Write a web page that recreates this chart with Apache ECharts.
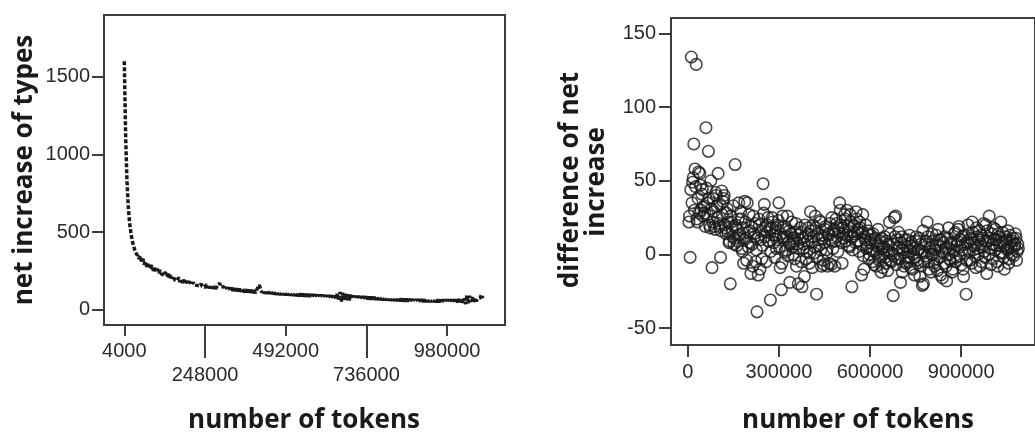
<!DOCTYPE html>
<html>
<head>
<meta charset="utf-8">
<script src="https://cdn.jsdelivr.net/npm/echarts@6/dist/echarts.min.js"></script>
<style>
  html, body { margin: 0; padding: 0; background: #ffffff; }
  #chart { width: 1035px; height: 432px; }
</style>
</head>
<body>
<div id="chart"></div>
<script>
// Token counts at which the type growth was measured (every 4000 tokens)
const tokens = [
  4000, 8000, 12000, 16000, 20000, 24000, 28000, 32000, 36000, 40000,
  44000, 48000, 52000, 56000, 60000, 64000, 68000, 72000, 76000, 80000,
  84000, 88000, 92000, 96000, 100000, 104000, 108000, 112000, 116000, 120000,
  124000, 128000, 132000, 136000, 140000, 144000, 148000, 152000, 156000, 160000,
  164000, 168000, 172000, 176000, 180000, 184000, 188000, 192000, 196000, 200000,
  204000, 208000, 212000, 216000, 220000, 224000, 228000, 232000, 236000, 240000,
  244000, 248000, 252000, 256000, 260000, 264000, 268000, 272000, 276000, 280000,
  284000, 288000, 292000, 296000, 300000, 304000, 308000, 312000, 316000, 320000,
  324000, 328000, 332000, 336000, 340000, 344000, 348000, 352000, 356000, 360000,
  364000, 368000, 372000, 376000, 380000, 384000, 388000, 392000, 396000, 400000,
  404000, 408000, 412000, 416000, 420000, 424000, 428000, 432000, 436000, 440000,
  444000, 448000, 452000, 456000, 460000, 464000, 468000, 472000, 476000, 480000,
  484000, 488000, 492000, 496000, 500000, 504000, 508000, 512000, 516000, 520000,
  524000, 528000, 532000, 536000, 540000, 544000, 548000, 552000, 556000, 560000,
  564000, 568000, 572000, 576000, 580000, 584000, 588000, 592000, 596000, 600000,
  604000, 608000, 612000, 616000, 620000, 624000, 628000, 632000, 636000, 640000,
  644000, 648000, 652000, 656000, 660000, 664000, 668000, 672000, 676000, 680000,
  684000, 688000, 692000, 696000, 700000, 704000, 708000, 712000, 716000, 720000,
  724000, 728000, 732000, 736000, 740000, 744000, 748000, 752000, 756000, 760000,
  764000, 768000, 772000, 776000, 780000, 784000, 788000, 792000, 796000, 800000,
  804000, 808000, 812000, 816000, 820000, 824000, 828000, 832000, 836000, 840000,
  844000, 848000, 852000, 856000, 860000, 864000, 868000, 872000, 876000, 880000,
  884000, 888000, 892000, 896000, 900000, 904000, 908000, 912000, 916000, 920000,
  924000, 928000, 932000, 936000, 940000, 944000, 948000, 952000, 956000, 960000,
  964000, 968000, 972000, 976000, 980000, 984000, 988000, 992000, 996000, 1000000,
  1004000, 1008000, 1012000, 1016000, 1020000, 1024000, 1028000, 1032000, 1036000, 1040000,
  1044000, 1048000, 1052000, 1056000, 1060000, 1064000, 1068000, 1072000, 1076000, 1080000,
  1084000, 1088000
];

// Net increase of word types in each step
const netIncrease = [
  1600, 1120, 830, 665, 560, 495, 445, 410, 385, 365,
  356, 330, 348, 312, 330, 292, 312, 278, 296, 266,
  262, 286, 252, 270, 244, 264, 238, 256, 232, 244,
  224, 244, 216, 232, 208, 226, 202, 218, 194, 206,
  188, 210, 180, 198, 174, 194, 170, 186, 166, 182,
  176, 162, 178, 160, 172, 158, 170, 155, 168, 152,
  162, 146, 165, 142, 158, 140, 155, 138, 152, 136,
  150, 162, 172, 148, 136, 150, 132, 146, 130, 144,
  128, 142, 124, 140, 122, 138, 120, 136, 118, 132,
  134, 116, 132, 114, 130, 112, 128, 110, 126, 108,
  128, 140, 160, 134, 112, 126, 106, 124, 104, 122,
  104, 120, 102, 118, 100, 116, 98, 114, 97, 113,
  96, 114, 95, 112, 94, 110, 93, 108, 92, 107,
  90, 106, 89, 105, 88, 104, 87, 103, 86, 102,
  85, 101, 84, 100, 83, 99, 82, 98, 81, 97,
  80, 96, 79, 95, 78, 94, 77, 93, 76, 92,
  70, 105, 60, 115, 52, 110, 58, 104, 64, 100,
  62, 98, 72, 92, 74, 90, 73, 89, 72, 88,
  71, 87, 70, 86, 69, 85, 68, 84, 67, 83,
  66, 82, 65, 81, 64, 80, 63, 79, 62, 78,
  61, 77, 60, 76, 59, 75, 58, 74, 57, 73,
  56, 72, 55, 71, 55, 70, 54, 70, 54, 69,
  53, 69, 53, 68, 52, 68, 52, 67, 52, 67,
  51, 67, 51, 66, 51, 66, 50, 66, 50, 65,
  50, 66, 51, 67, 50, 66, 51, 67, 50, 66,
  51, 67, 50, 68, 52, 66, 48, 74, 38, 96,
  44, 90, 52, 82, 50, 76, 56, 72, 60, 78,
  98, 74
];

// Difference of net increase between consecutive steps
const diffNetIncrease = [
  22, -2, 134, 49, 75, 58, 129, 22, 56, 55,
  30, 44, 32, 28, 86, 35, 70, 20, 50, -9,
  38, 19, 42, 33, 55, 19, -2, 43, 36, 40,
  18, 28, 15, 8, -20, 22, 12, 7, 61, 18,
  9, 35, 14, 24, 2, -6, 36, 11, 35, 5,
  16, -13, 7, 26, 12, -5, -39, -14, 20, 10,
  -3, 48, 34, 19, 15, 25, 9, -31, 18, 22,
  8, 13, 4, 20, 35, -9, -24, 26, 12, 2,
  17, 26, 8, -19, 14, 5, 11, -3, 21, 7,
  -20, 10, 15, -22, 4, -15, 12, 2, 18, -6,
  29, 9, 20, 1, 26, -27, 14, 6, 22, -8,
  11, -7, 17, 3, -8, 13, 21, -7, 9, 16,
  -8, 24, 12, 18, 35, 20, -6, 14, 27, 9,
  30, 16, 5, 22, -22, 12, 19, 8, 24, 15,
  2, 18, -14, 27, -10, 10, 4, 14, -3, 8,
  13, -5, 2, 11, -8, 6, -2, 9, -12, 4,
  0, 12, -6, 3, 7, 22, -4, 1, -28, 25,
  26, 10, -3, 5, -19, 12, 3, -8, 6, -2,
  10, -5, 2, 8, -10, 4, -2, 12, -6, 3,
  -15, 7, -21, -20, 1, 9, 22, -5, 5, -12,
  14, 0, -8, 6, -3, 17, 10, -14, 2, 8,
  -6, 4, -18, 11, 0, -4, 7, -10, 3, 15,
  -2, 9, 19, 5, -7, 12, -15, 1, -27, 8,
  14, -4, 10, 22, 3, 6, -9, 12, 0, 16,
  7, -5, 11, 2, 20, -13, 9, 26, 4, 14,
  -3, 10, 17, 6, -8, 12, 1, 8, 15, -2,
  6, 10, 3, -6, 13, 5, 9, -1, 7, 11,
  2, 4
];

// Half-step token counts and their differences
const midTokens = [
  6000, 10000, 14000, 18000, 22000, 26000, 30000, 34000, 38000, 42000,
  46000, 50000, 54000, 58000, 62000, 66000, 70000, 74000, 78000, 82000,
  86000, 90000, 94000, 98000, 102000, 106000, 110000, 114000, 118000, 122000,
  126000, 130000, 134000, 138000, 142000, 146000, 150000, 154000, 158000, 162000,
  166000, 170000, 174000, 178000, 182000, 186000, 190000, 194000, 198000, 202000,
  206000, 210000, 214000, 218000, 222000, 226000, 230000, 234000, 238000, 242000,
  246000, 250000, 254000, 258000, 262000, 266000, 270000, 274000, 278000, 282000,
  286000, 290000, 294000, 298000, 302000, 306000, 310000, 314000, 318000, 322000,
  326000, 330000, 334000, 338000, 342000, 346000, 350000, 354000, 358000, 362000,
  366000, 370000, 374000, 378000, 382000, 386000, 390000, 394000, 398000, 402000,
  406000, 410000, 414000, 418000, 422000, 426000, 430000, 434000, 438000, 442000,
  446000, 450000, 454000, 458000, 462000, 466000, 470000, 474000, 478000, 482000,
  486000, 490000, 494000, 498000, 502000, 506000, 510000, 514000, 518000, 522000,
  526000, 530000, 534000, 538000, 542000, 546000, 550000, 554000, 558000, 562000,
  566000, 570000, 574000, 578000, 582000, 586000, 590000, 594000, 598000, 602000,
  606000, 610000, 614000, 618000, 622000, 626000, 630000, 634000, 638000, 642000,
  646000, 650000, 654000, 658000, 662000, 666000, 670000, 674000, 678000, 682000,
  686000, 690000, 694000, 698000, 702000, 706000, 710000, 714000, 718000, 722000,
  726000, 730000, 734000, 738000, 742000, 746000, 750000, 754000, 758000, 762000,
  766000, 770000, 774000, 778000, 782000, 786000, 790000, 794000, 798000, 802000,
  806000, 810000, 814000, 818000, 822000, 826000, 830000, 834000, 838000, 842000,
  846000, 850000, 854000, 858000, 862000, 866000, 870000, 874000, 878000, 882000,
  886000, 890000, 894000, 898000, 902000, 906000, 910000, 914000, 918000, 922000,
  926000, 930000, 934000, 938000, 942000, 946000, 950000, 954000, 958000, 962000,
  966000, 970000, 974000, 978000, 982000, 986000, 990000, 994000, 998000, 1002000,
  1006000, 1010000, 1014000, 1018000, 1022000, 1026000, 1030000, 1034000, 1038000, 1042000,
  1046000, 1050000, 1054000, 1058000, 1062000, 1066000, 1070000, 1074000, 1078000, 1082000,
  1086000
];

const diffNetIncreaseMid = [
  26, 44, 35, 52, 30, 46, 24, 38, 28, 47,
  41, 26, 33, 19, 45, 27, 38, 18, 31, 22,
  29, 17, 40, 25, 21, 34, 16, 27, 38, 20,
  14, 31, 22, 9, 26, 17, 33, 11, 20, 6,
  24, 13, 29, 4, 18, 10, 22, -4, 15, 27,
  8, 19, -8, 14, 21, 3, 11, 24, -10, 16,
  6, 28, 12, -5, 20, 9, 17, 2, 25, 13,
  -2, 18, 10, 23, 5, 14, -6, 11, 19, 3,
  12, -1, 16, 7, 22, 0, 9, 15, -8, 13,
  4, 18, -5, 11, 7, 20, -3, 9, 14, 1,
  16, -9, 12, 5, 18, -2, 10, 23, 3, 13,
  -4, 8, 19, 1, 14, -6, 10, 25, 4, 17,
  9, 21, 2, 15, 30, 8, 18, 11, 24, 13,
  19, 6, 27, 12, 3, 20, 14, 29, 9, 17,
  22, 7, 15, -1, 12, 20, 5, 16, 0, 10,
  3, 14, -7, 8, 1, 17, -4, 6, 11, -9,
  5, -2, 9, -11, 2, 14, -5, 7, -1, 12,
  -7, 4, 15, -3, 8, -12, 1, 10, -6, 5,
  -2, 13, -9, 6, 0, -14, 9, -4, 3, 11,
  -8, 2, 16, -5, 7, -1, 12, -10, 4, 0,
  9, -6, 3, 13, -11, 6, -2, 10, -16, 1,
  12, -8, 5, 18, -3, 8, -12, 2, 14, -5,
  6, 17, -1, 10, 3, -10, 13, 7, -4, 20,
  2, 11, -6, 15, 8, -1, 18, 4, 10, -8,
  13, 5, 21, -2, 9, 16, 0, 11, -7, 7,
  18, 3, 10, -5, 14, 6, 22, 1, 9, -10,
  12, 4, 16, -3, 8, 0, 11, 5, 14, -4,
  7
];

// Tick values
const leftYTicks = [0, 500, 1000, 1500];
const leftXTicksUpper = [4000, 492000, 980000];
const leftXTicksLower = [248000, 736000];
const rightYTicks = [-50, 0, 50, 100, 150];
const rightXTicks = [0, 300000, 600000, 900000];

const axisTitle = 'net increase of types';
const xTitle = 'number of tokens';
const rightTitleLines = ['difference of net', 'increase'];

const INK = '#1a1a1a';
const FRAME = '#3c3c3c';
const tickFont = { fontFamily: 'Liberation Sans', fontSize: 20, color: '#2a2a2a' };
const titleFont = 'bold 26px "Open Sans"';
const plain = v => String(v);

const lineData = tokens.map((t, i) => [t, netIncrease[i]]);
const scatterData = tokens.map((t, i) => [t, diffNetIncrease[i]])
  .concat(midTokens.map((t, i) => [t, diffNetIncreaseMid[i]]));

function valueAxis(extra) {
  return Object.assign({
    type: 'value',
    scale: false,
    splitLine: { show: false },
    axisLine: { show: true, onZero: false, lineStyle: { color: FRAME, width: 2 } }
  }, extra);
}

const chart = echarts.init(document.getElementById('chart'), null, { renderer: 'canvas' });

chart.setOption({
  animation: false,
  backgroundColor: '#ffffff',
  grid: [
    { left: 104, top: 15, width: 401, height: 310, show: true, borderColor: FRAME, borderWidth: 2, backgroundColor: '#ffffff' },
    { left: 671, top: 18, width: 406, height: 327, show: true, borderColor: FRAME, borderWidth: 2, backgroundColor: '#ffffff' }
  ],
  xAxis: [
    valueAxis({
      gridIndex: 0, position: 'bottom', min: -57400, max: 1155000,
      axisTick: { show: true, customValues: leftXTicksUpper, length: 11, lineStyle: { color: FRAME, width: 2 } },
      axisLabel: Object.assign({ customValues: leftXTicksUpper, margin: 16, formatter: plain }, tickFont)
    }),
    valueAxis({
      gridIndex: 0, position: 'bottom', min: -57400, max: 1155000,
      axisLine: { show: false, onZero: false },
      axisTick: { show: true, customValues: leftXTicksLower, length: 33, lineStyle: { color: FRAME, width: 2 } },
      axisLabel: Object.assign({ customValues: leftXTicksLower, margin: 40, formatter: plain }, tickFont)
    }),
    valueAxis({
      gridIndex: 1, position: 'bottom', min: -55000, max: 1142700,
      axisTick: { show: true, customValues: rightXTicks, length: 12, lineStyle: { color: FRAME, width: 2 } },
      axisLabel: Object.assign({ customValues: rightXTicks, margin: 17, formatter: plain }, tickFont)
    })
  ],
  yAxis: [
    valueAxis({
      gridIndex: 0, position: 'left', min: -97, max: 1898,
      axisTick: { show: true, customValues: leftYTicks, length: 12, lineStyle: { color: FRAME, width: 2 } },
      axisLabel: Object.assign({ customValues: leftYTicks, margin: 14, formatter: plain }, tickFont)
    }),
    valueAxis({
      gridIndex: 1, position: 'left', min: -61.5, max: 160.5,
      axisTick: { show: true, customValues: rightYTicks, length: 12, lineStyle: { color: FRAME, width: 2 } },
      axisLabel: Object.assign({ customValues: rightYTicks, margin: 15, formatter: plain }, tickFont)
    })
  ],
  series: [
    {
      type: 'line',
      xAxisIndex: 0, yAxisIndex: 0,
      data: lineData,
      showSymbol: false,
      symbol: 'none',
      clip: true,
      lineStyle: { color: INK, width: 3.5, type: [4, 2] }
    },
    {
      type: 'scatter',
      xAxisIndex: 2, yAxisIndex: 1,
      data: scatterData,
      symbol: 'circle',
      symbolSize: 11.5,
      clip: true,
      itemStyle: { color: 'rgba(0,0,0,0)', borderColor: INK, borderWidth: 1.6 }
    }
  ],
  graphic: [
    { type: 'text', x: 25, y: 170, rotation: Math.PI / 2,
      style: { text: axisTitle, font: titleFont, fill: INK, align: 'center', verticalAlign: 'middle' } },
    { type: 'text', x: 304, y: 421,
      style: { text: xTitle, font: titleFont, fill: INK, align: 'center', verticalAlign: 'middle' } },
    { type: 'text', x: 571, y: 180, rotation: Math.PI / 2,
      style: { text: rightTitleLines[0], font: titleFont, fill: INK, align: 'center', verticalAlign: 'middle' } },
    { type: 'text', x: 597, y: 182, rotation: Math.PI / 2,
      style: { text: rightTitleLines[1], font: titleFont, fill: INK, align: 'center', verticalAlign: 'middle' } },
    { type: 'text', x: 858, y: 421,
      style: { text: xTitle, font: titleFont, fill: INK, align: 'center', verticalAlign: 'middle' } }
  ]
});
</script>
</body>
</html>
